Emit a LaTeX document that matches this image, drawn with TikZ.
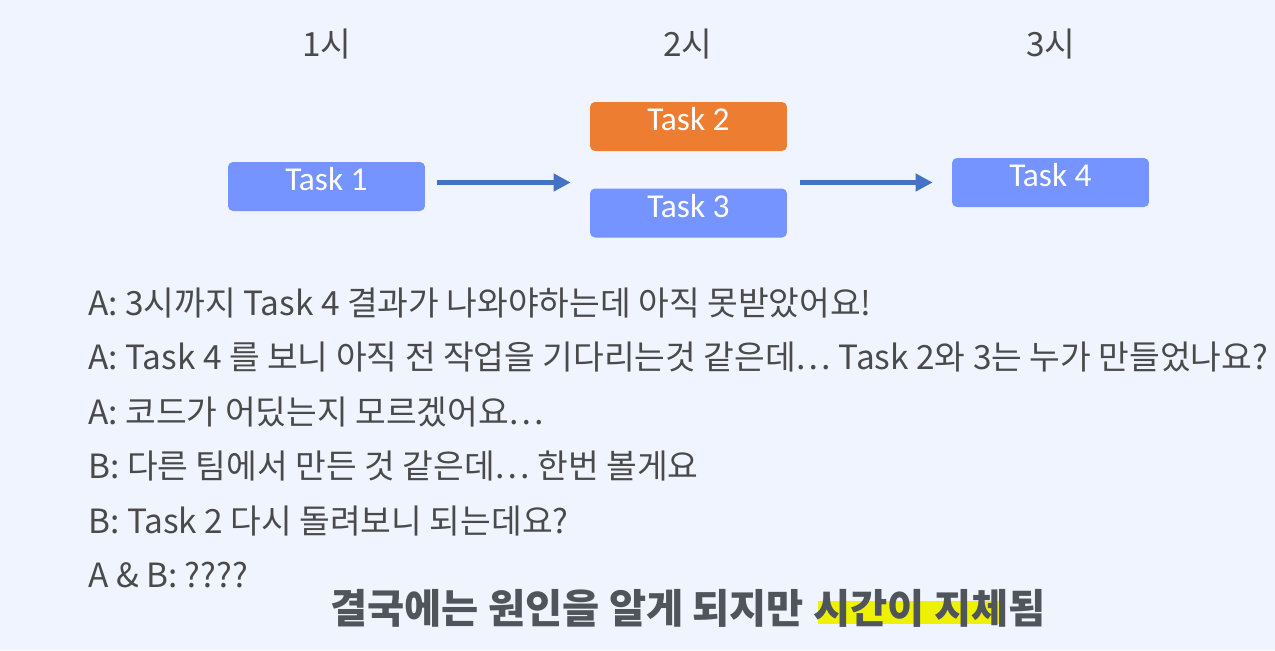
\documentclass[tikz,border=0pt]{standalone}
\usepackage{fontspec}
\setmainfont{Noto Sans CJK KR}
\newfontfamily\taskfont{Carlito}
\usepackage{xcolor}
\usetikzlibrary{positioning,arrows.meta}
\definecolor{bgcol}{HTML}{F0F4FE}
\definecolor{taskblue}{HTML}{7594FF}
\definecolor{taskorange}{HTML}{ED7D31}
\definecolor{arrowblue}{HTML}{4472C4}
\definecolor{talkgray}{HTML}{4A4A4A}
\definecolor{notegray}{HTML}{50555C}
\definecolor{marker}{HTML}{EEF200}
\tikzset{
    task/.style={rectangle, rounded corners=0.1cm, fill=taskblue, text=white,
        minimum width=3.94cm, minimum height=0.98cm, inner sep=0pt,
        text height=0.42cm, text depth=0.25cm, font=\taskfont\fontsize{19}{22}\selectfont},
    hour/.style={anchor=base, text=talkgray, inner sep=0pt, font=\fontsize{19}{22}\selectfont},
    talk/.style={anchor=base west, text=talkgray, inner sep=0pt, font=\fontsize{19}{22}\selectfont},
    flow/.style={draw=arrowblue, line width=0.09cm, -{Triangle[length=0.34cm, width=0.34cm]}}
}

\begin{document}
\begin{tikzpicture}[x=0.02cm, y=-0.02cm]
    % Bakgrund
    \fill[bgcol] (0,0) rectangle (1275,650);
    \useasboundingbox (0,0) rectangle (1275,650);

    % Tidslinje
    \node[hour] (h1) at (327,56) {1시};
    \node[hour] (h2) at (688,56) {2시};
    \node[hour] (h3) at (1051,56) {3시};

    % Tasks
    \node[task] (t1) at (326.5,186.5) {Task 1};
    \node[task, fill=taskorange] (t2) at (688.5,126.5) {Task 2};
    \node[task] (t3) at (688.5,213) {Task 3};
    \node[task] (t4) at (1050.5,182.5) {Task 4};

    % Pilar
    \draw[flow] ([xshift=0.24cm]t1.east |- t4.west) -- ([xshift=-0.38cm]t3.west |- t4.west);
    \draw[flow] ([xshift=0.26cm]t3.east |- t4.west) -- ([xshift=-0.38cm]t4.west);

    % Samtal
    \node[talk] (l1) at (88,315) {A: 3시까지 Task 4 결과가 나와야하는데 아직 못받았어요!};
    \node[talk] (l2) at (88,369.5) {A: Task 4 를 보니 아직 전 작업을 기다리는것 같은데… Task 2와 3는 누가 만들었나요?};
    \node[talk] (l3) at (88,424) {A: 코드가 어딨는지 모르겠어요…};
    \node[talk] (l4) at (88,478.5) {B: 다른 팀에서 만든 것 같은데… 한번 볼게요};
    \node[talk] (l5) at (88,533) {B: Task 2 다시 돌려보니 되는데요?};
    \node[talk] (l6) at (88,587.5) {A \& B: ????};

    % Slutsats
    \fill[marker] (818,601) rectangle (1003,624);
    \node[anchor=base, text=notegray, inner sep=0pt, font=\bfseries\fontsize{23}{27}\selectfont]
        (note) at (688,623) {결국에는 원인을 알게 되지만 시간이 지체됨};
\end{tikzpicture}
\end{document}
